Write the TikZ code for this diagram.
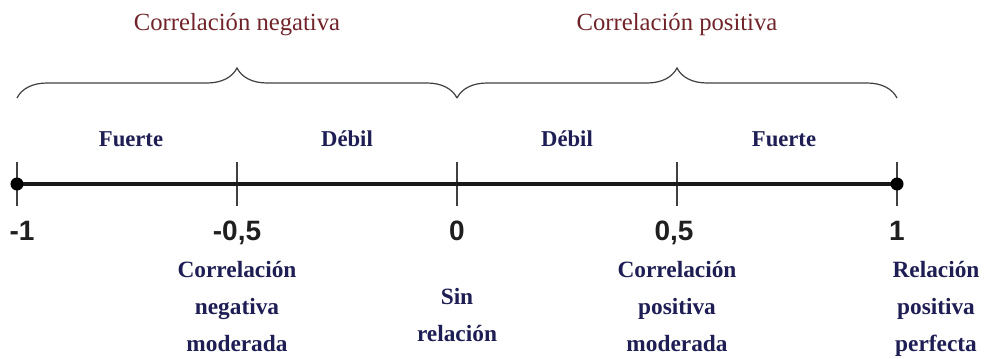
\documentclass[tikz,border=0pt]{standalone}
\usepackage{fontspec}
\setmainfont{Liberation Serif}
\setsansfont{Liberation Sans}
\usepackage{xcolor}
\usepackage{tikz}
\usetikzlibrary{decorations.pathreplacing}

\definecolor{corrred}{RGB}{112,36,42}
\definecolor{corrnavy}{RGB}{30,30,84}

\begin{document}
\begin{tikzpicture}[x=0.75pt, y=0.75pt,
    axisline/.style={line width=3.6pt, black!90},
    axistick/.style={line width=1.1pt, black!75},
    groupbrace/.style={decorate, decoration={brace, amplitude=22.5pt}, line width=0.9pt, black!75},
    grouplabel/.style={anchor=base, text=corrred, font=\fontsize{18.5}{22}\selectfont},
    rangelabel/.style={anchor=base, text=corrnavy, font=\fontsize{17}{20}\selectfont\bfseries},
    numlabel/.style={anchor=base, text=black!88, font=\sffamily\bfseries\fontsize{21}{24}\selectfont},
    desclabel/.style={anchor=base, align=center, text=corrnavy, font=\fontsize{17.5}{27.75}\selectfont\bfseries}]
    \useasboundingbox (-457,-174) rectangle (530,184);

    % Points on the axis
    \foreach \name/\x in {m1/-440, mh/-220, zero/0, ph/220, p1/440}
        \coordinate (\name) at (\x,0);

    % Ticks and axis
    \foreach \name in {m1, mh, zero, ph, p1}
        \draw[axistick] (\name) ++(0,22) -- ++(0,-44);
    \draw[axisline] (m1) -- (p1);
    \fill[black] (m1) circle (6.5);
    \fill[black] (p1) circle (6.5);

    % Braces
    \coordinate (bl) at (-440,86);
    \coordinate (bm) at (0,86);
    \coordinate (br) at (440,86);
    \draw[groupbrace] (bl) -- (bm);
    \draw[groupbrace] (bm) -- (br);
    \node[grouplabel] (neg) at (-220,154) {Correlación negativa};
    \node[grouplabel] (pos) at (220,154) {Correlación positiva};

    % Strength labels
    \node[rangelabel] (fneg) at (-326,38) {Fuerte};
    \node[rangelabel] (dneg) at (-110,38) {Débil};
    \node[rangelabel] (dpos) at (110,38) {Débil};
    \node[rangelabel] (fpos) at (327,38) {Fuerte};

    % Values
    \node[numlabel] (vm1) at (-435,-56) {-1};
    \node[numlabel] (vmh) at (-220,-56) {-0,5};
    \node[numlabel] (vzero) at (0,-56) {0};
    \node[numlabel] (vph) at (217,-56) {0,5};
    \node[numlabel] (vp1) at (440,-56) {1};

    % Descriptions (base = last line)
    \node[desclabel] (cmh) at (-220,-167) {Correlación\\negativa\\moderada};
    \node[desclabel] (czero) at (0,-157) {Sin\\relación};
    \node[desclabel] (cph) at (220,-167) {Correlación\\positiva\\moderada};
    \node[desclabel] (cp1) at (479,-167) {Relación\\positiva\\perfecta};
\end{tikzpicture}
\end{document}
